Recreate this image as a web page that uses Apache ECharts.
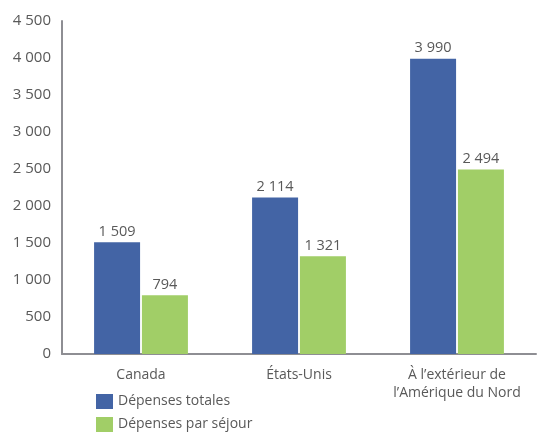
<!DOCTYPE html>
<html>
<head>
<meta charset="utf-8">
<script src="https://cdn.jsdelivr.net/npm/echarts@6/dist/echarts.min.js"></script>
<style>
  html, body { margin: 0; padding: 0; background: #fff; }
  #chart { width: 543px; height: 433px; }
</style>
</head>
<body>
<div id="chart"></div>
<script>
// Dépenses moyennes par destination
const categories = ['Canada', 'États-Unis', 'À l\u2019extérieur de\nl\u2019Amérique du Nord'];
const depensesTotales = [1509, 2114, 3990];
const depensesParSejour = [794, 1321, 2494];
const seriesNames = ['Dépenses totales', 'Dépenses par séjour'];

const fmt = v => String(v).replace(/\B(?=(\d{3})+(?!\d))/g, ' ');
const FONT = '"Open Sans", "Noto Sans", sans-serif';
const TEXT = '#595959';

const chart = echarts.init(document.getElementById('chart'));
chart.setOption({
  animation: false,
  textStyle: { fontFamily: FONT },
  grid: { left: 62, right: 7, top: 21, bottom: 79, containLabel: false },
  legend: {
    orient: 'vertical',
    left: 96,
    top: 394,
    height: 40,
    padding: 0,
    itemWidth: 17,
    itemHeight: 15,
    itemGap: 8,
    icon: 'rect',
    textStyle: { color: TEXT, fontSize: 14, fontFamily: FONT },
    data: seriesNames
  },
  xAxis: {
    type: 'category',
    data: categories,
    axisLine: { lineStyle: { color: '#8e8e93', width: 2 } },
    axisTick: { show: false },
    axisLabel: { interval: 0, color: TEXT, fontSize: 14, fontFamily: FONT, margin: 12, lineHeight: 18 }
  },
  yAxis: {
    type: 'value',
    min: 0,
    max: 4500,
    interval: 500,
    axisLine: { show: true, lineStyle: { color: '#8e8e93', width: 2 } },
    axisTick: { show: false },
    splitLine: { show: false },
    axisLabel: { color: TEXT, fontSize: 15, fontFamily: FONT, margin: 11, formatter: fmt }
  },
  series: [
    {
      name: seriesNames[0],
      type: 'bar',
      data: depensesTotales,
      barWidth: 46,
      barGap: '4%',
      itemStyle: { color: '#4364A5' },
      label: { show: true, position: 'top', distance: 3, color: TEXT, fontSize: 14.5, fontFamily: FONT, formatter: p => fmt(p.value) }
    },
    {
      name: seriesNames[1],
      type: 'bar',
      data: depensesParSejour,
      barWidth: 46,
      itemStyle: { color: '#A1CE67' },
      label: { show: true, position: 'top', distance: 3, color: TEXT, fontSize: 14.5, fontFamily: FONT, formatter: p => fmt(p.value) }
    }
  ]
});
</script>
</body>
</html>
